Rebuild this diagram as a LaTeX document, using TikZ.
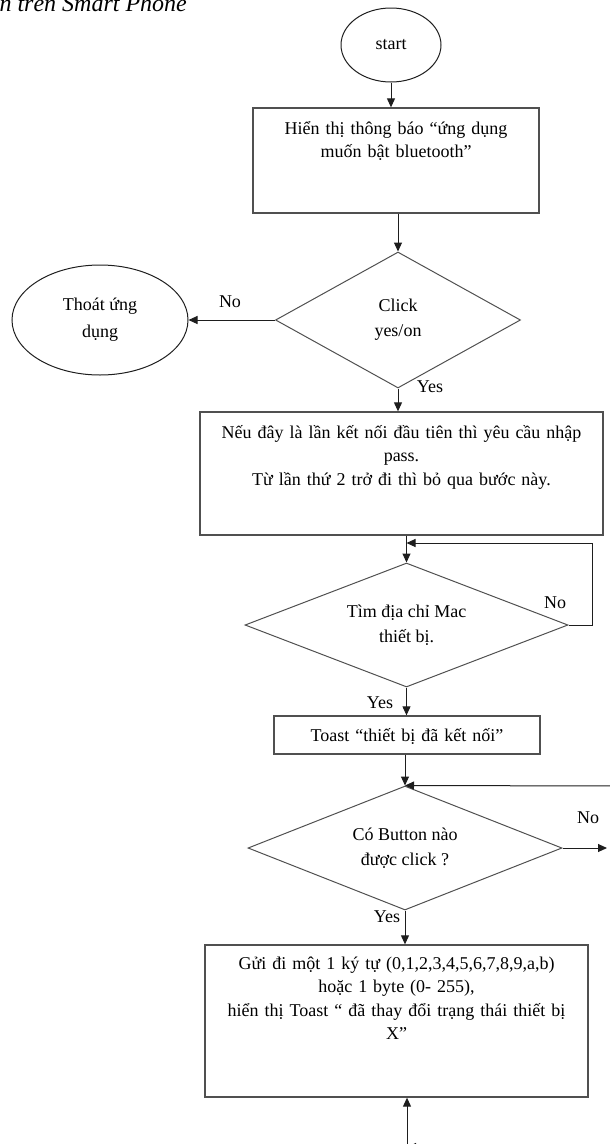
\documentclass[tikz,border=0pt]{standalone}
\usepackage{fontspec}
\setmainfont{Liberation Serif}
\usepackage{tikz}
\usetikzlibrary{arrows.meta,shapes,positioning}
\definecolor{lineGray}{RGB}{80,80,80}
\definecolor{arrowGray}{RGB}{30,30,30}

\begin{document}
\begin{tikzpicture}[x=1pt,y=-1pt,
          boxno/.style={rectangle,draw=lineGray,line width=1.3pt,align=center,
                        inner xsep=4pt,inner ysep=0pt,font=\fontsize{18}{23.5}\selectfont},
          decno/.style={diamond,draw=lineGray,line width=1pt,align=center,
                        inner sep=0pt,font=\fontsize{18}{25}\selectfont},
          endno/.style={ellipse,draw=arrowGray,line width=1pt,align=center,
                        inner sep=0pt,font=\fontsize{18}{27}\selectfont},
          flow/.style={-{Triangle[length=9pt,width=8pt]},arrowGray,line width=1pt},
          lbl/.style={font=\fontsize{18}{20}\selectfont},
        ]
        \useasboundingbox (0,0) rectangle (610,1144);
        \node[font=\fontsize{24}{24}\selectfont\itshape,anchor=base west] (caption)
          at (-4,11) {n trên Smart Phone};

        % START + BLUETOOTH
        \node[endno,minimum width=100pt,minimum height=74pt] (start) at (391,45) {start};
        \node[boxno,text width=278pt,text height=26pt,text depth=79pt] (box1) at (396,160.5)
          {Hiển thị thông báo “ứng dụng\\muốn bật bluetooth”};
        \node[decno,aspect=1.8,minimum width=245pt,minimum height=136pt] (d1) at (398,320)
          {Click\\yes/on};
        \node[endno,minimum width=176pt,minimum height=110pt] (quit) at (100,320)
          {Thoát ứng\\dụng};
        \draw[flow] (start) -- (start |- box1.north);
        \draw[flow] (d1.north |- box1.south) -- (d1.north);
        \draw[flow] (d1.west) -- (quit.east);
        \node[lbl] (no1) at (230,302) {No};
        \node[lbl] (yes1) at (430,387) {Yes};

        % PASS + MAC
        \node[boxno,text width=395pt,text height=26pt,text depth=97pt] (box2) at (401.5,473.5)
          {Nếu đây là lần kết nối đầu tiên thì yêu cầu nhập\\pass.\\Từ lần thứ 2 trở đi thì bỏ qua bước này.};
        \node[decno,aspect=2.6,minimum width=323pt,minimum height=124pt] (d2) at (406.5,625)
          {Tìm địa chỉ Mac\\thiết bị.};
        \coordinate (loop2) at (592,543);
        \draw[flow] (d1.south) -- (d1.south |- box2.north);
        \draw[flow] (d2.north |- box2.south) -- (d2.north);
        \draw[flow] (d2.east) -| (loop2) -- (loop2 -| d2.north);
        \node[lbl] (no2) at (555,603) {No};
        \node[lbl] (yes2) at (380,703) {Yes};

        % TOAST + BUTTON
        \node[boxno,text width=258pt,text height=25pt,text depth=13pt] (box3) at (407,735)
          {Toast “thiết bị đã kết nối”};
        \node[decno,aspect=2.5,minimum width=314pt,minimum height=124pt] (d3) at (405,848)
          {Có Button nào\\được click ?};
        \coordinate (loop3) at (625,786);
        \coordinate (exit3) at (607,848);
        \draw[flow] (d2.south) -- (d2.south |- box3.north);
        \draw[flow] (d3.north |- box3.south) -- (d3.north);
        \draw[flow] (loop3) -- (d3.north);
        \draw[flow] (d3.east) -- (exit3);
        \node[lbl] (no3) at (588,818) {No};
        \node[lbl] (yes3) at (387,917) {Yes};

        % SEND
        \node[boxno,text width=375pt,text height=24pt,text depth=128pt] (box4) at (396.5,1021)
          {Gửi đi một 1 ký tự (0,1,2,3,4,5,6,7,8,9,a,b)\\hoặc 1 byte (0- 255),\\hiển thị Toast “ đã thay đổi trạng thái thiết bị\\X”};
        \coordinate (up4) at (407,1170);
        \coordinate (loop4) at (630,1147);
        \draw[flow] (d3.south) -- (d3.south |- box4.north);
        \draw[flow] (up4) -- (up4 |- box4.south);
        \draw[flow] (loop4) -- (loop4 -| up4);
\end{tikzpicture}
\end{document}
